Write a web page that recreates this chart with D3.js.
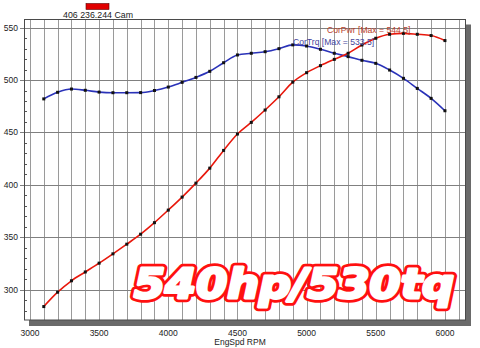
<!DOCTYPE html>
<html>
<head>
<meta charset="utf-8">
<script src="https://cdn.jsdelivr.net/npm/d3@7"></script>
<style>
html,body{margin:0;padding:0;background:#fff;}
svg{display:block;font-family:"Liberation Sans",Arial,sans-serif;}
</style>
</head>
<body>
<svg id="chart" width="480" height="348"></svg>
<script>
const rpm = [3100,3200,3300,3400,3500,3600,3700,3800,3900,4000,4100,4200,4300,4400,4500,4600,4700,4800,4900,5000,5100,5200,5300,5400,5500,5600,5700,5800,5900,6000];
const corPwr = [284,297.7,308.6,317,325.4,334.3,343.5,353,364,376,388.4,401.7,416,432.9,448.5,459.6,471.4,484,498,507,513.7,519.7,525.5,533.4,539.8,543.6,544.5,543.6,542.4,537.6];
const corTrq = [482,488.3,491.4,490.2,488.5,487.9,487.9,488,490,493.3,497.8,502.5,508.3,516.5,523.9,525.5,527,529.9,533.5,532.4,529.3,525.5,522.3,518.8,515.9,509.5,501.6,492,482.5,470.7];
const xTicks = [3000,3500,4000,4500,5000,5500,6000];
const yTicks = [300,350,400,450,500,550];
const title = "406 236.244 Cam";
const pwrLabel = "CorPwr [Max = 544.5]";
const trqLabel = "CorTrq [Max = 533.5]";
const xTitle = "EngSpd RPM";
const bigText = "540hp/530tq";

const svg = d3.select("#chart");
const L = 24, R = 465, T = 19.5, B = 320;
const x = d3.scaleLinear().domain([2957, 6145]).range([L, R]);
const y = d3.scaleLinear().domain([271.2, 557.7]).range([B, T]);

// drop shadow
svg.append("rect").attr("x", R).attr("y", T + 5).attr("width", 6).attr("height", B - T + 1).attr("fill", "#6a6a6a");
svg.append("rect").attr("x", L + 5).attr("y", B).attr("width", R - L + 1).attr("height", 6).attr("fill", "#6a6a6a");
svg.append("rect").attr("x", L).attr("y", T).attr("width", R - L).attr("height", B - T).attr("fill", "#fff");

// vertical grid every 100 rpm
const vGrid = d3.range(3000, 6101, 100);
svg.append("g").selectAll("line").data(vGrid).join("line")
  .attr("x1", d => Math.round(x(d)) + 0.5).attr("x2", d => Math.round(x(d)) + 0.5)
  .attr("y1", T).attr("y2", B)
  .attr("stroke", "#9a9a9a").attr("stroke-width", 1);

// horizontal grid at major ticks
svg.append("g").selectAll("line").data(yTicks).join("line")
  .attr("x1", L - 4).attr("x2", R)
  .attr("y1", d => Math.round(y(d)) + 0.5).attr("y2", d => Math.round(y(d)) + 0.5)
  .attr("stroke", "#808080").attr("stroke-width", 1);

// minor y ticks every 10
const minorY = d3.range(280, 551, 10).filter(v => v % 50 !== 0);
svg.append("g").selectAll("line").data(minorY).join("line")
  .attr("x1", L).attr("x2", L + 3)
  .attr("y1", d => Math.round(y(d)) + 0.5).attr("y2", d => Math.round(y(d)) + 0.5)
  .attr("stroke", "#555");

// frame
svg.append("rect").attr("x", L + 0.5).attr("y", T).attr("width", R - L).attr("height", B - T)
  .attr("fill", "none").attr("stroke", "#4a4a4a").attr("stroke-width", 1);

// axes labels
svg.append("g").selectAll("text").data(yTicks).join("text")
  .attr("x", 18).attr("y", d => y(d) + 3)
  .attr("text-anchor", "end").attr("font-size", 8.5).attr("fill", "#222")
  .text(d => d);
svg.append("g").selectAll("text").data(xTicks).join("text")
  .attr("x", d => x(d)).attr("y", 336)
  .attr("text-anchor", "middle").attr("font-size", 8.5).attr("fill", "#222")
  .text(d => d);
svg.append("text").attr("x", 240).attr("y", 345).attr("text-anchor", "middle")
  .attr("font-size", 8.5).attr("fill", "#222").text(xTitle);

// series
const line = d3.line().x((d, i) => x(rpm[i])).y(d => y(d)).curve(d3.curveMonotoneX);
svg.append("path").datum(corTrq).attr("d", line).attr("fill", "none")
  .attr("stroke", "#2a32b8").attr("stroke-width", 1.6);
svg.append("path").datum(corPwr).attr("d", line).attr("fill", "none")
  .attr("stroke", "#e8180c").attr("stroke-width", 1.6);
[corTrq, corPwr].forEach(s => {
  svg.append("g").selectAll("rect").data(s).join("rect")
    .attr("x", (d, i) => x(rpm[i]) - 1.5).attr("y", d => y(d) - 1.5)
    .attr("width", 3).attr("height", 3).attr("fill", "#111");
});

// series labels
svg.append("text").attr("x", 327).attr("y", 32.5).attr("font-size", 8.6)
  .attr("fill", "#b8402a").text(pwrLabel);
svg.append("text").attr("x", 293).attr("y", 44.5).attr("font-size", 8.6)
  .attr("fill", "#45459a").text(trqLabel);

// legend / title
svg.append("rect").attr("x", 86).attr("y", 3.5).attr("width", 23).attr("height", 6)
  .attr("fill", "#e00000").attr("stroke", "#5a0000").attr("stroke-width", 0.6);
svg.append("text").attr("x", 98).attr("y", 18).attr("text-anchor", "middle")
  .attr("font-size", 8.8).attr("fill", "#222").text(title);

// big overlay text: red outline layer then thickened white layer
const bt = svg.append("g");
[["#ff1010", "#ff1010", 8.5], ["#fff", "#fff", 3]].forEach(([fill, stroke, sw]) => {
  bt.append("text").attr("x", 134).attr("y", 298)
    .attr("font-family", "DejaVu Sans").attr("font-weight", "bold").attr("font-style", "italic")
    .attr("font-size", 41).attr("textLength", 320).attr("lengthAdjust", "spacingAndGlyphs")
    .attr("fill", fill).attr("stroke", stroke).attr("stroke-width", sw)
    .attr("stroke-linejoin", "round")
    .text(bigText);
});
</script>
</body>
</html>
